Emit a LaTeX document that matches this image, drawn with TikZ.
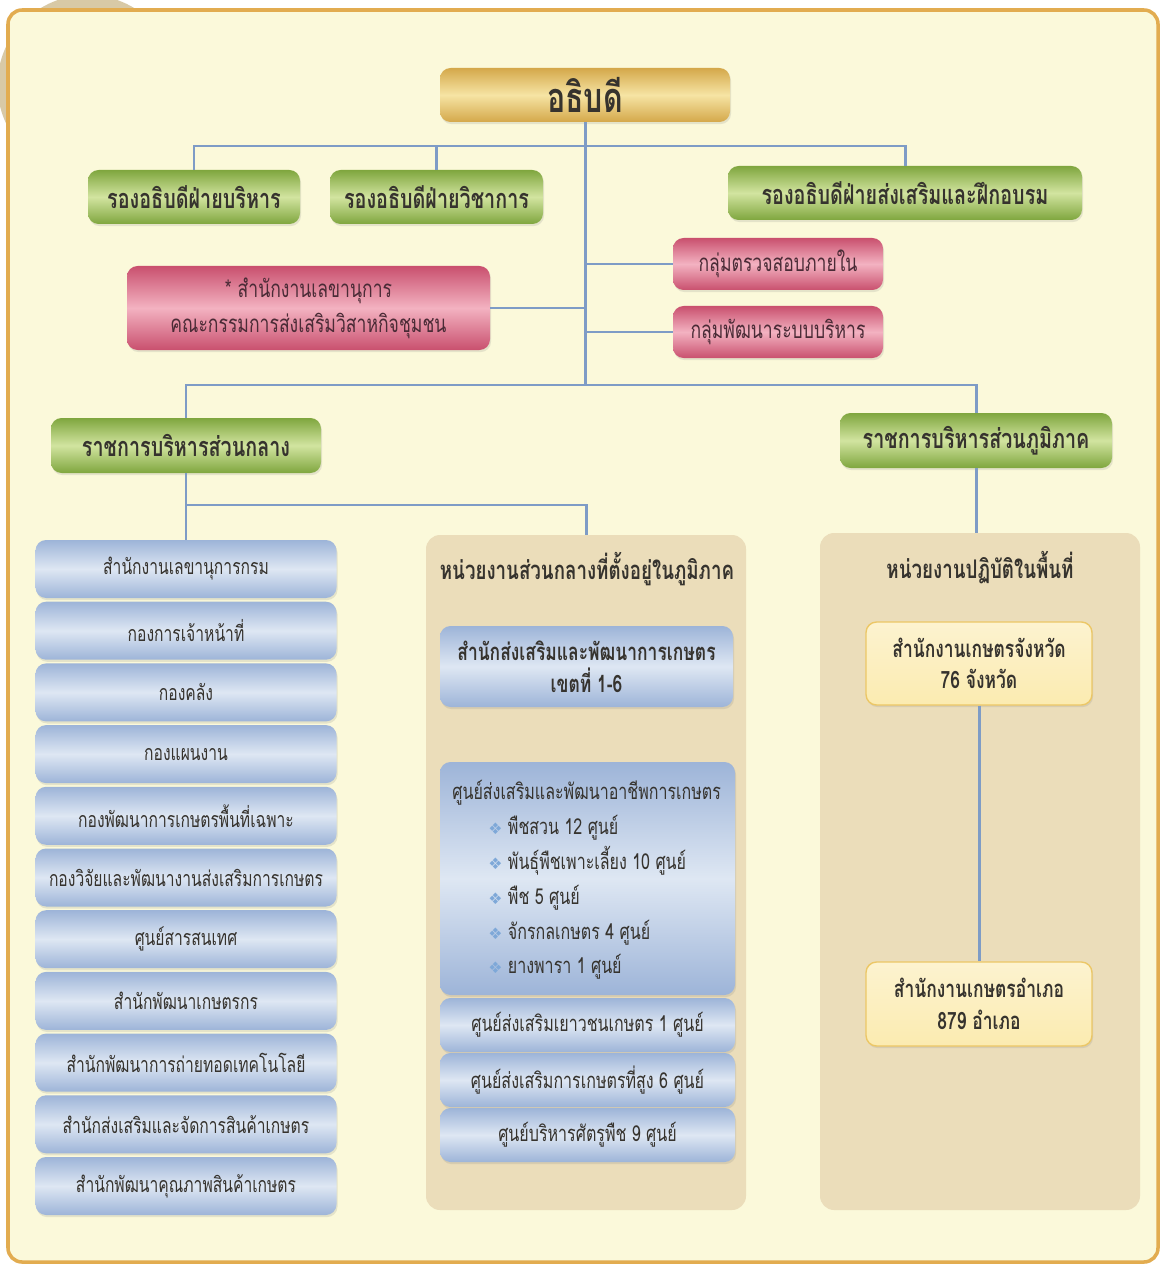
\documentclass[tikz,border=0pt]{standalone}
\usepackage{fontspec}
\setmainfont[Script=Thai,FakeStretch=0.73]{Loma}
\newfontfamily\symbfont{DejaVu Sans}
\usetikzlibrary{shadows}
\definecolor{framefill}{HTML}{FBF9DA}
\definecolor{frameline}{HTML}{E2AC50}
\definecolor{linkblue}{HTML}{7E9CC6}
\definecolor{leafdark}{HTML}{7FA63E}
\definecolor{leaflight}{HTML}{D2E4A0}
\definecolor{golddark}{HTML}{D4A84A}
\definecolor{goldlight}{HTML}{F6E4A4}
\definecolor{rosedark}{HTML}{C9506E}
\definecolor{roselight}{HTML}{F3B2C1}
\definecolor{skydark}{HTML}{9DB4D8}
\definecolor{skylight}{HTML}{DEE7F3}
\definecolor{panelbrown}{HTML}{EBDDBA}
\definecolor{butter}{HTML}{FBEBB0}
\definecolor{butterline}{HTML}{ECC766}
\definecolor{ink}{HTML}{36332E}
\definecolor{roseink}{HTML}{4A2B36}
\definecolor{bulletblue}{HTML}{7EA8D8}
\definecolor{beige}{HTML}{D8C9A6}

\begin{document}
\begin{tikzpicture}[y=-1cm,
	link/.style={draw=linkblue, line width=1.7pt},
	box/.style={rounded corners=6pt, inner sep=0pt, align=center, text=ink,
		drop shadow={opacity=0.18, shadow xshift=0.6pt, shadow yshift=-1.2pt}},
	greenbox/.style={box, top color=leafdark, bottom color=leafdark, middle color=leaflight,
		minimum height=1.08cm, font=\bfseries\fontsize{15.4}{18}\selectfont},
	goldbox/.style={box, top color=golddark, bottom color=golddark, middle color=goldlight,
		minimum height=1.08cm, font=\bfseries\fontsize{23.6}{28}\selectfont},
	rosebox/.style={box, top color=rosedark, bottom color=rosedark, middle color=roselight,
		text=roseink, minimum height=1.04cm, font=\fontsize{13.7}{20}\selectfont},
	skybox/.style={box, top color=skydark, bottom color=skydark, middle color=skylight,
		font=\fontsize{12.2}{17}\selectfont},
	butterbox/.style={box, draw=butterline, line width=0.8pt, top color=butter!60!white, bottom color=butter,
		minimum width=4.52cm, font=\bfseries\fontsize{13.6}{18}\selectfont},
	panel/.style={rounded corners=8pt, fill=panelbrown, minimum width=6.4cm},
	paneltitle/.style={text=ink, font=\bfseries\fontsize{14.6}{17}\selectfont},
	]
	\useasboundingbox (0,0) rectangle (23.2,25.38);
	\fill[white] (0,0) rectangle (23.2,25.38);
	\fill[beige] (1.75,1.7) circle (1.8);
	\draw[frameline, line width=2pt, fill=framefill, rounded corners=8pt] (0.16,0.2) rectangle (23.16,25.24);

	\coordinate (bus1) at (11.7,2.92);
	\coordinate (bus2) at (11.7,7.7);
	\coordinate (bus3) at (11.72,10.1);

	\node[panel, minimum height=13.5cm] (midpanel) at (11.72,17.45) {};
	\node[panel, minimum height=13.54cm] (rightpanel) at (19.6,17.43) {};

	\node[goldbox, minimum width=5.8cm] (chief) at (11.7,1.9) {อธิบดี};
	\node[greenbox, minimum width=4.24cm] (dep1) at (3.88,3.94) {รองอธิบดีฝ่ายบริหาร};
	\node[greenbox, minimum width=4.26cm] (dep2) at (8.73,3.94) {รองอธิบดีฝ่ายวิชาการ};
	\node[greenbox, minimum width=7.08cm] (dep3) at (18.1,3.86) {รองอธิบดีฝ่ายส่งเสริมและฝึกอบรม};
	\node[rosebox, minimum width=4.2cm] (audit) at (15.56,5.28) {กลุ่มตรวจสอบภายใน};
	\node[rosebox, minimum width=4.2cm] (sysdev) at (15.56,6.64) {กลุ่มพัฒนาระบบบริหาร};
	\node[rosebox, minimum width=7.26cm, minimum height=1.68cm] (secr) at (6.17,6.16)
		{* สำนักงานเลขานุการ\\คณะกรรมการส่งเสริมวิสาหกิจชุมชน};
	\node[greenbox, minimum width=5.4cm, minimum height=1.1cm] (central) at (3.72,8.91) {ราชการบริหารส่วนกลาง};
	\node[greenbox, minimum width=5.44cm, minimum height=1.1cm] (regional) at (19.52,8.81) {ราชการบริหารส่วนภูมิภาค};

	\foreach \name [count=\i from 0] in {สำนักงานเลขานุการกรม, กองการเจ้าหน้าที่, กองคลัง, กองแผนงาน,
		กองพัฒนาการเกษตรพื้นที่เฉพาะ, กองวิจัยและพัฒนางานส่งเสริมการเกษตร, ศูนย์สารสนเทศ,
		สำนักพัฒนาเกษตรกร, สำนักพัฒนาการถ่ายทอดเทคโนโลยี, สำนักส่งเสริมและจัดการสินค้าเกษตร,
		สำนักพัฒนาคุณภาพสินค้าเกษตร}
		\node[skybox, minimum width=6.02cm, minimum height=1.16cm] (unit\i) at (3.72,11.38+1.234*\i) {\name};

	\node[paneltitle] (midtitle) at (11.74,11.38) {หน่วยงานส่วนกลางที่ตั้งอยู่ในภูมิภาค};
	\node[skybox, minimum width=5.86cm, minimum height=1.62cm, font=\bfseries\fontsize{13.6}{18}\selectfont] (zone) at (11.73,13.33)
		{สำนักส่งเสริมและพัฒนาการเกษตร\\เขตที่ 1-6};
	\node[skybox, minimum width=5.9cm, minimum height=4.66cm] (career) at (11.75,17.57) {};
	\node[text=ink, align=left, anchor=north west, inner sep=0pt, font=\fontsize{12.5}{19.9}\selectfont] (careerlist) at (9.04,15.59)
		{ศูนย์ส่งเสริมและพัฒนาอาชีพการเกษตร\\
		\hspace*{0.72cm}{\symbfont\color{bulletblue}\small ❖} พืชสวน 12 ศูนย์\\
		\hspace*{0.72cm}{\symbfont\color{bulletblue}\small ❖} พันธุ์พืชเพาะเลี้ยง 10 ศูนย์\\
		\hspace*{0.72cm}{\symbfont\color{bulletblue}\small ❖} พืช 5 ศูนย์\\
		\hspace*{0.72cm}{\symbfont\color{bulletblue}\small ❖} จักรกลเกษตร 4 ศูนย์\\
		\hspace*{0.72cm}{\symbfont\color{bulletblue}\small ❖} ยางพารา 1 ศูนย์};
	\node[skybox, minimum width=5.9cm, minimum height=1.08cm, font=\fontsize{12.5}{17}\selectfont] (youth) at (11.75,20.5) {ศูนย์ส่งเสริมเยาวชนเกษตร 1 ศูนย์};
	\node[skybox, minimum width=5.9cm, minimum height=1.08cm, font=\fontsize{12.5}{17}\selectfont] (highland) at (11.75,21.6) {ศูนย์ส่งเสริมการเกษตรที่สูง 6 ศูนย์};
	\node[skybox, minimum width=5.9cm, minimum height=1.08cm, font=\fontsize{12.5}{17}\selectfont] (pest) at (11.75,22.7) {ศูนย์บริหารศัตรูพืช 9 ศูนย์};

	\node[paneltitle] (righttitle) at (19.6,11.36) {หน่วยงานปฏิบัติในพื้นที่};
	\node[butterbox, minimum height=1.66cm] (prov) at (19.58,13.27) {สำนักงานเกษตรจังหวัด\\76 จังหวัด};
	\node[butterbox, minimum height=1.68cm] (dist) at (19.58,20.08) {สำนักงานเกษตรอำเภอ\\879 อำเภอ};

	\draw[link] (chief) -- (bus2);
	\draw[link] (dep1.north) |- (bus1) -| (dep3.north);
	\draw[link] (dep2.north) -- (dep2.north |- bus1);
	\draw[link] (secr) -- (secr -| bus2);
	\draw[link] (audit) -- (audit -| bus2);
	\draw[link] (sysdev) -- (sysdev -| bus2);
	\draw[link] (central.north) |- (bus2) -| (regional.north);
	\draw[link] (central.south) -- (unit0.north);
	\draw[link] (central.south |- bus3) -- (bus3) -- (midpanel.north);
	\draw[link] (regional.south) -- (regional.south |- rightpanel.north);
	\draw[link] (prov) -- (dist);
\end{tikzpicture}
\end{document}
